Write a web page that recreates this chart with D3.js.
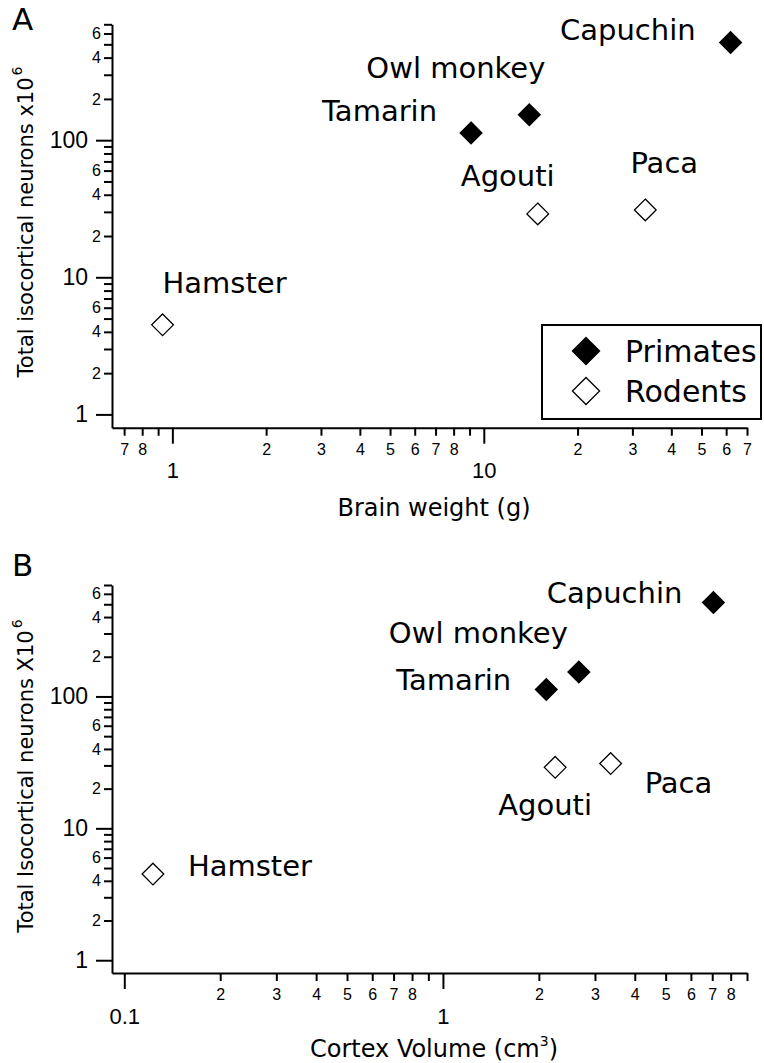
<!DOCTYPE html>
<html>
<head>
<meta charset="utf-8">
<script src="https://cdn.jsdelivr.net/npm/d3@7"></script>
<style>
  body { margin: 0; background: #fff; }
  svg { display: block; font-family: "DejaVu Sans", sans-serif; }
  .axis path, .axis line { stroke: #000; stroke-width: 2px; }
  .axis text { fill: #000; }
</style>
</head>
<body>
<article></article>
<script>
// data
const species = ['Capuchin', 'Owl monkey', 'Tamarin', 'Agouti', 'Paca', 'Hamster']
const group = ['Primates', 'Primates', 'Primates', 'Rodents', 'Rodents', 'Rodents']
const neurons = [515, 153, 113, 29, 31, 4.5]          // x10^6
const brainWeight = [62, 14, 9.1, 14.9, 33, 0.93]     // g
const cortexVolume = [7.06, 2.67, 2.11, 2.25, 3.36, 0.123] // cm3

const groups = ['Primates', 'Rodents']

// ticks
const yMajor = [1, 10, 100]
const yMinor = [2, 3, 4, 5, 6, 7, 8, 9, 20, 30, 40, 50, 60, 70, 80, 90, 200, 300, 400, 500, 600, 700]
const xMajorA = [1, 10]
const xMinorA = [0.7, 0.8, 0.9, 2, 3, 4, 5, 6, 7, 8, 9, 20, 30, 40, 50, 60, 70]
const xMajorB = [0.1, 1]
const xMinorB = [0.2, 0.3, 0.4, 0.5, 0.6, 0.7, 0.8, 0.9, 2, 3, 4, 5, 6, 7, 8, 9]

const m = { width: 764, height: 1063 }

const svg = d3.select('article').append('svg')
    .attr('width', m.width)
    .attr('height', m.height)

const diamond = d3.symbol().type(d3.symbolDiamond2)

function firstDigit(v) {
    return String(Math.round(v / Math.pow(10, Math.floor(Math.log10(v) + 1e-9))))
}

function drawPanel(p) {
    const x = d3.scaleLog().domain(p.xDomain).range([112, 747])
    const y = d3.scaleLog().domain([0.8, 700]).range([p.bottom, p.top])

    const g = svg.append('g')

    // y axis
    g.append('g').attr('class', 'axis')
        .attr('transform', 'translate(112,0)')
        .call(d3.axisLeft(y).tickValues(yMinor).tickSize(8).tickPadding(3).tickSizeOuter(0)
            .tickFormat(d => ['2', '4', '6'].includes(firstDigit(d)) ? firstDigit(d) : ''))
        .call(a => a.selectAll('text').attr('font-size', 16))
    g.append('g').attr('class', 'axis')
        .attr('transform', 'translate(112,0)')
        .call(d3.axisLeft(y).tickValues(yMajor).tickSize(16).tickPadding(8).tickFormat(d3.format('')))
        .call(a => a.select('.domain').remove())
        .call(a => a.selectAll('text').attr('font-size', 23))

    // x axis
    g.append('g').attr('class', 'axis')
        .attr('transform', `translate(0,${p.bottom})`)
        .call(d3.axisBottom(x).tickValues(p.xMinor).tickSize(8).tickPadding(8).tickSizeOuter(0)
            .tickFormat(d => firstDigit(d) === '9' ? '' : firstDigit(d)))
        .call(a => a.selectAll('text').attr('font-size', 16))
    g.append('g').attr('class', 'axis')
        .attr('transform', `translate(0,${p.bottom})`)
        .call(d3.axisBottom(x).tickValues(p.xMajor).tickSize(16).tickPadding(19).tickFormat(d3.format('')))
        .call(a => a.select('.domain').remove())
        .call(a => a.selectAll('text').attr('font-size', 22))

    // y title
    const yt = g.append('text')
        .attr('transform', `translate(33,${p.yTitleMid}) rotate(-90)`)
        .attr('text-anchor', 'middle')
        .attr('font-size', 21)
        .text(p.yTitle)
    yt.append('tspan').attr('font-size', 14).attr('dx', 2).attr('dy', -11).text('6')

    // x title
    const xt = g.append('text')
        .attr('x', 434)
        .attr('y', p.xTitleY)
        .attr('text-anchor', 'middle')
        .attr('font-size', 24)
    p.xTitle(xt)

    // panel letter
    g.append('text')
        .attr('x', 12)
        .attr('y', p.letterY)
        .attr('font-size', 31)
        .text(p.letter)

    const idx = d3.range(species.length)

    g.selectAll('.pt')
        .data(idx)
        .enter()
        .append('path')
        .attr('d', diamond.size(300))
        .attr('transform', i => `translate(${x(p.xs[i])},${y(neurons[i])})`)
        .attr('fill', i => group[i] === 'Primates' ? '#000' : '#fff')
        .attr('stroke', '#000')
        .attr('stroke-width', 1.3)

    g.selectAll('.lab')
        .data(idx)
        .enter()
        .append('text')
        .attr('x', i => x(p.xs[i]) + p.labels[i][0])
        .attr('y', i => y(neurons[i]) + p.labels[i][1])
        .attr('text-anchor', i => p.labels[i][2])
        .attr('font-size', 29)
        .text(i => species[i])
}

drawPanel({
    letter: 'A', letterY: 30,
    top: 24.3, bottom: 427.7,
    xDomain: [0.64, 70],
    xs: brainWeight,
    xMajor: xMajorA, xMinor: xMinorA,
    yTitle: 'Total isocortical neurons x10', yTitleMid: 222,
    xTitleY: 516,
    xTitle: t => t.text('Brain weight (g)'),
    labels: [[-35, -3, 'end'], [16, -37, 'end'], [-34, -12, 'end'],
             [-30, -28, 'middle'], [19, -37, 'middle'], [0, -32, 'start']]
})

drawPanel({
    letter: 'B', letterY: 576,
    top: 585, bottom: 973,
    xDomain: [0.0915, 9.0],
    xs: cortexVolume,
    xMajor: xMajorB, xMinor: xMinorB,
    yTitle: 'Total Isocortical neurons X10', yTitleMid: 776,
    xTitleY: 1057,
    xTitle: t => {
        t.text('Cortex Volume (cm')
        t.append('tspan').attr('font-size', 14).attr('dy', -11).text('3')
        t.append('tspan').attr('dy', 11).text(')')
    },
    labels: [[-31, 0, 'end'], [-11, -29, 'end'], [-35, 1, 'end'],
             [-10, 48, 'middle'], [34, 29, 'start'], [35, 2, 'start']]
})

// legend in panel A
const leg = svg.append('g')
leg.append('rect')
    .attr('x', 542).attr('y', 325)
    .attr('width', 219).attr('height', 94)
    .attr('fill', '#fff').attr('stroke', '#000').attr('stroke-width', 2)

leg.selectAll('.li')
    .data(groups)
    .enter()
    .append('path')
    .attr('d', diamond.size(470))
    .attr('transform', (d, i) => `translate(586,${351 + i * 40})`)
    .attr('fill', d => d === 'Primates' ? '#000' : '#fff')
    .attr('stroke', '#000')
    .attr('stroke-width', 1.3)

leg.selectAll('.lt')
    .data(groups)
    .enter()
    .append('text')
    .attr('x', 625)
    .attr('y', (d, i) => 362 + i * 40)
    .attr('font-size', 30)
    .text(d => d)
</script>
</body>
</html>
